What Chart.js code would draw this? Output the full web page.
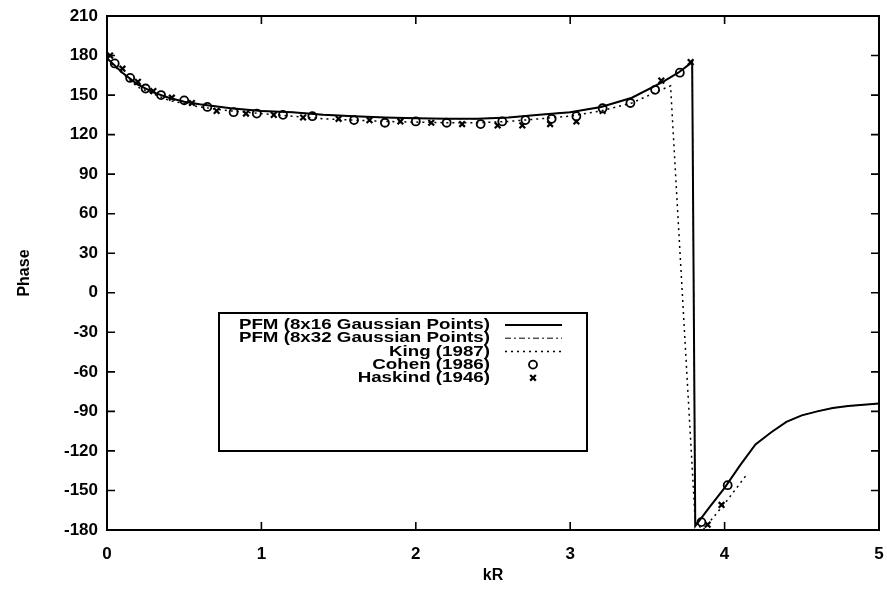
<!DOCTYPE html>
<html>
<head>
<meta charset="utf-8">
<script src="https://cdn.jsdelivr.net/npm/chart.js@4/dist/chart.umd.min.js"></script>
<style>
  html, body { margin: 0; padding: 0; background: #fff; }
</style>
</head>
<body>
<canvas id="myChart" width="887" height="599"></canvas>
<script>
// 軸の目盛り
const xTicks = [0, 1, 2, 3, 4, 5];
const yTicks = [-180, -150, -120, -90, -60, -30, 0, 30, 60, 90, 120, 150, 180, 210];

// PFM (8x16)
const pfm16KR = [0, 0.1, 0.2, 0.3, 0.4, 0.5, 0.6, 0.8, 1.0, 1.2, 1.4, 1.6, 1.8, 2.0, 2.2, 2.4, 2.6, 2.8, 3.0, 3.2, 3.4, 3.6, 3.7, 3.79, 3.81, 3.9, 4.0, 4.1, 4.2, 4.3, 4.4, 4.5, 4.6, 4.7, 4.8, 4.9, 5.0];
const pfm16Phase = [178, 167, 158, 152, 148, 145, 143, 140, 138, 137, 135, 134, 133, 132.5, 132, 132, 133, 135, 137, 141, 148, 160, 167, 175, -177, -163, -148, -131, -115, -106, -98, -93, -90, -87.5, -86, -85, -84];

// PFM (8x32) -- 図ではほぼ8x16と重なっている
const pfm32KR = [0, 0.1, 0.2, 0.3, 0.4, 0.5, 0.6, 0.8, 1.0, 1.2, 1.4, 1.6, 1.8, 2.0, 2.2, 2.4, 2.6, 2.8, 3.0, 3.2, 3.4, 3.6, 3.7, 3.79, 3.81, 3.9, 4.0, 4.1, 4.2, 4.3, 4.4, 4.5, 4.6, 4.7, 4.8, 4.9, 5.0];
const pfm32Phase = [178, 167, 158, 152, 148, 145, 143, 140, 138, 137, 135, 134, 133, 132.5, 132, 132, 133, 135, 137, 141, 148, 160, 167, 175, -177, -163, -148, -131, -115, -106, -98, -93, -90, -87.5, -86, -85, -84];

// King (1987)
const kingKR = [0, 0.2, 0.4, 0.6, 0.8, 1.0, 1.2, 1.4, 1.6, 1.8, 2.0, 2.2, 2.4, 2.6, 2.8, 3.0, 3.2, 3.4, 3.55, 3.65, 3.81, 3.86, 4.0, 4.15];
const kingPhase = [177, 156, 146, 141, 138, 136, 134, 132, 131, 130, 129.5, 129, 129, 130, 132, 134, 138, 144, 152, 157, -174, -180, -160, -137];

// Cohen (1986)
const cohenKR = [0.05, 0.15, 0.25, 0.35, 0.5, 0.65, 0.82, 0.97, 1.14, 1.33, 1.6, 1.8, 2.0, 2.2, 2.42, 2.56, 2.71, 2.88, 3.04, 3.21, 3.39, 3.55, 3.71, 3.85, 4.02];
const cohenPhase = [174, 163, 155, 150, 146, 141, 137, 136, 135, 134, 131, 129, 130, 129, 128, 130, 131, 132, 134, 140, 144, 154, 167, -174, -146];

// Haskind (1946)
const haskindKR = [0.02, 0.1, 0.2, 0.3, 0.42, 0.55, 0.71, 0.9, 1.08, 1.27, 1.5, 1.7, 1.9, 2.1, 2.3, 2.53, 2.69, 2.87, 3.04, 3.21, 3.59, 3.78, 3.89, 3.98];
const haskindPhase = [180, 170, 160, 153, 148, 144, 138, 136, 135, 133, 132, 131, 130, 129, 128, 127, 127, 128, 130, 138, 161, 175, -176, -161];

const toPoints = (xs, ys) => xs.map((v, i) => ({ x: v, y: ys[i] }));

Chart.defaults.font.family = "'Liberation Sans', Arial, sans-serif";
Chart.defaults.font.weight = 'bold';
Chart.defaults.font.size = 17;
Chart.defaults.color = '#000';

const data = {
  datasets: [
    {
      label: 'PFM (8x16 Gaussian Points)',
      data: toPoints(pfm16KR, pfm16Phase),
      showLine: true, borderColor: '#000', borderWidth: 2, pointRadius: 0,
    },
    {
      label: 'PFM (8x32 Gaussian Points)',
      data: toPoints(pfm32KR, pfm32Phase),
      showLine: true, borderColor: '#000', borderWidth: 1, borderDash: [6, 3, 2, 3], pointRadius: 0,
    },
    {
      label: 'King (1987)',
      data: toPoints(kingKR, kingPhase),
      showLine: true, borderColor: '#000', borderWidth: 1.5, borderDash: [2, 4], pointRadius: 0,
    },
    {
      label: 'Cohen (1986)',
      data: toPoints(cohenKR, cohenPhase),
      showLine: false, pointStyle: 'circle', pointRadius: 4,
      borderColor: '#000', backgroundColor: '#fff', borderWidth: 1.8,
    },
    {
      label: 'Haskind (1946)',
      data: toPoints(haskindKR, haskindPhase),
      showLine: false, pointStyle: 'crossRot', pointRadius: 4,
      borderColor: '#000', borderWidth: 2.2,
    },
  ],
};

// 枠・内向き目盛り・凡例を描く
const framePlugin = {
  id: 'frame',
  afterDraw(chart) {
    const { ctx, chartArea: a, scales: { x, y } } = chart;
    ctx.save();
    ctx.strokeStyle = '#000';
    ctx.lineWidth = 2;
    ctx.strokeRect(a.left, a.top, a.right - a.left, a.bottom - a.top);

    ctx.lineWidth = 1.6;
    ctx.beginPath();
    yTicks.forEach(v => {
      const p = y.getPixelForValue(v);
      ctx.moveTo(a.left, p); ctx.lineTo(a.left + 8, p);
      ctx.moveTo(a.right, p); ctx.lineTo(a.right - 8, p);
    });
    xTicks.forEach(v => {
      const p = x.getPixelForValue(v);
      ctx.moveTo(p, a.bottom); ctx.lineTo(p, a.bottom - 8);
      ctx.moveTo(p, a.top); ctx.lineTo(p, a.top + 8);
    });
    ctx.stroke();

    // 凡例
    const box = { left: 219, top: 313, right: 587, bottom: 451 };
    ctx.lineWidth = 2;
    ctx.strokeRect(box.left, box.top, box.right - box.left, box.bottom - box.top);
    ctx.font = "bold 15px 'Liberation Sans', Arial, sans-serif";
    ctx.textAlign = 'right';
    ctx.textBaseline = 'middle';
    chart.data.datasets.forEach((ds, i) => {
      const ly = 325 + i * 13.2;
      // 元図の文字は横に広いので少し横に伸ばす
      ctx.save();
      ctx.fillStyle = '#000';
      ctx.translate(490, ly);
      ctx.scale(1.25, 1);
      ctx.fillText(ds.label, 0, 0);
      ctx.restore();

      ctx.save();
      ctx.strokeStyle = '#000';
      ctx.lineWidth = ds.borderWidth;
      if (ds.showLine) {
        ctx.setLineDash(ds.borderDash || []);
        ctx.beginPath();
        ctx.moveTo(505, ly); ctx.lineTo(562, ly);
        ctx.stroke();
      } else {
        ctx.fillStyle = ds.backgroundColor || '#000';
        Chart.helpers.drawPoint(ctx, {
          pointStyle: ds.pointStyle, radius: ds.pointRadius, borderWidth: ds.borderWidth, rotation: 0,
        }, 533, ly);
      }
      ctx.restore();
    });
    ctx.restore();
  },
};

const options = {
  responsive: false,
  animation: false,
  layout: { padding: { top: 16, right: 8, left: 0, bottom: 0 } },
  plugins: { legend: { display: false }, tooltip: { enabled: false } },
  scales: {
    x: {
      type: 'linear', min: 0, max: 5,
      afterFit: s => { s.height = 69; s.paddingLeft = 0; s.paddingRight = 0; },
      afterBuildTicks: s => { s.ticks = xTicks.map(v => ({ value: v })); },
      ticks: { padding: 14 },
      grid: { display: false, drawTicks: false },
      border: { display: false },
      title: { display: true, text: 'kR', font: { size: 16, weight: 'bold' }, padding: { top: 0, bottom: 14 } },
    },
    y: {
      type: 'linear', min: -180, max: 210,
      afterFit: s => { s.width = 107; s.paddingTop = 0; s.paddingBottom = 0; },
      afterBuildTicks: s => { s.ticks = yTicks.map(v => ({ value: v })); },
      ticks: { padding: 9 },
      grid: { display: false, drawTicks: false },
      border: { display: false },
      title: { display: true, text: 'Phase', font: { size: 16, weight: 'bold' }, padding: { top: 15, bottom: 0 } },
    },
  },
};

const ctx = document.getElementById('myChart').getContext('2d');
const myChart = new Chart(ctx, {
  type: 'scatter',
  data: data,
  options: options,
  plugins: [framePlugin],
});
</script>
</body>
</html>
